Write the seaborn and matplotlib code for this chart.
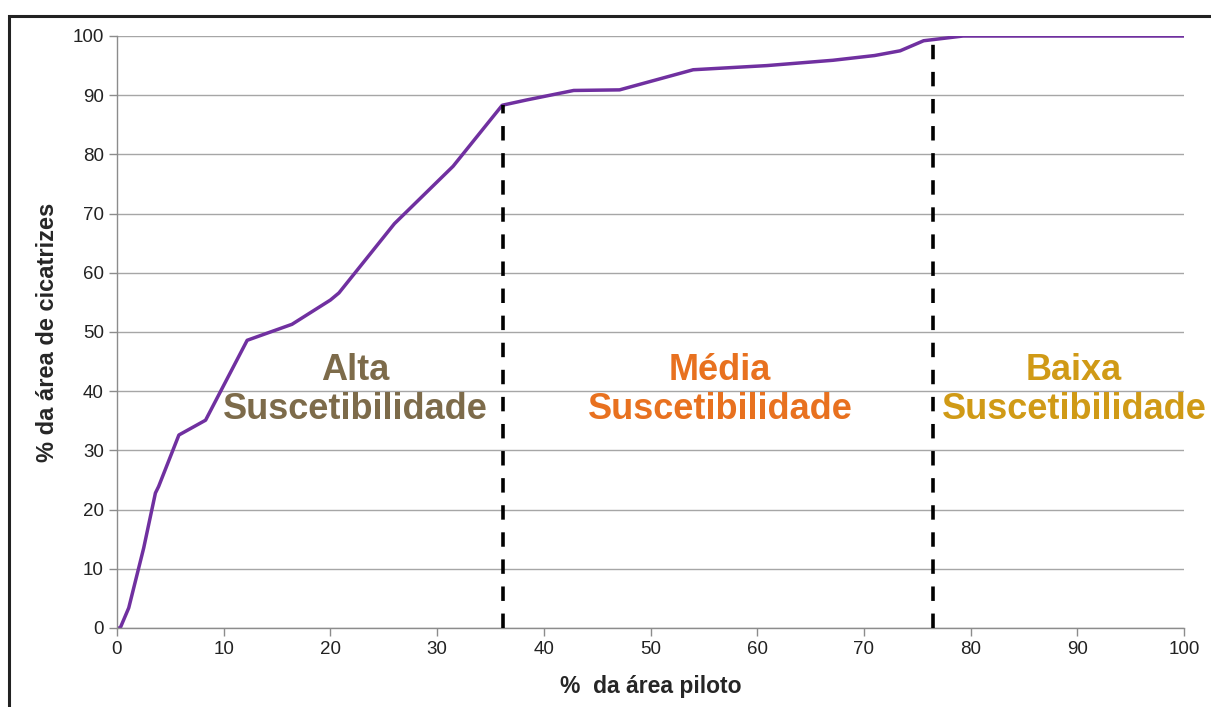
import numpy as np
import pandas as pd
import matplotlib
matplotlib.use('Agg')
import matplotlib.pyplot as plt
import seaborn as sns
from matplotlib.patches import Rectangle

# Dados (curva acumulada)
area_piloto = [0, 0.3, 1.1, 2.5, 3.6, 3.9, 5.8, 8.3, 12.2, 16.4, 20.0, 20.8,
               26.0, 31.5, 36.1, 38.4, 42.8, 47.1, 54.0, 60.9, 67.1, 71.0,
               73.4, 75.6, 79.3, 100]
area_cicatrizes = [0, 0, 3.4, 13.5, 22.8, 23.9, 32.6, 35.1, 48.6, 51.3, 55.4, 56.6,
                   68.3, 78.0, 88.3, 89.2, 90.8, 90.9, 94.3, 95.0, 95.9, 96.7,
                   97.5, 99.2, 100, 100]

limites_x = [36.2, 76.5]
limites_topo = [88.4, 99.2]

classes = ['Alta\nSuscetibilidade', 'Média\nSuscetibilidade', 'Baixa\nSuscetibilidade']
classes_x = [22.3, 56.5, 89.7]
classes_y = [40.2, 40.2, 40.2]
classes_cor = ['#7d6b4a', '#e8711f', '#d09a16']

sns.set_theme(style='white')
plt.rcParams['font.family'] = ['Liberation Sans', 'DejaVu Sans']

fig = plt.figure(figsize=(12.11, 7.07), dpi=100)
ax = fig.add_axes([117 / 1211, 1 - 628 / 707, (1184 - 117) / 1211, (628 - 36) / 707])

df = pd.DataFrame({'x': area_piloto, 'y': area_cicatrizes})
sns.lineplot(data=df, x='x', y='y', sort=False, color='#7030a0', linewidth=2.5, ax=ax)

ax.vlines(limites_x, 0, limites_topo, colors='black', linestyles=(0, (4, 3.5)), linewidth=2.6, zorder=3)

for txt, tx, ty, cor in zip(classes, classes_x, classes_y, classes_cor):
    ax.text(tx, ty, txt, ha='center', va='center', fontsize=26, fontweight='bold',
            color=cor, linespacing=1.12, zorder=4)

ax.set_xlim(0, 100)
ax.set_ylim(0, 100)
ax.set_xticks(np.arange(0, 101, 10))
ax.set_yticks(np.arange(0, 101, 10))
ax.yaxis.grid(True, color='#a6a6a6', linewidth=1)
ax.xaxis.grid(False)
ax.set_axisbelow(True)
for s in ['top', 'right']:
    ax.spines[s].set_visible(False)
for s in ['left', 'bottom']:
    ax.spines[s].set_color('#8c8c8c')
    ax.spines[s].set_linewidth(1)
ax.tick_params(axis='both', which='major', length=6, width=1, color='#8c8c8c',
               labelsize=13.5, labelcolor='#222222', direction='out', bottom=True, left=True)
ax.set_xlabel('%  da área piloto', fontsize=16.5, fontweight='bold', labelpad=12)
ax.set_ylabel('% da área de cicatrizes', fontsize=17, fontweight='bold', labelpad=10)

# moldura preta em volta da figura
fig.patches.append(Rectangle((9 / 1211, -0.1), 1.2, 1 - 16 / 707 + 0.1, transform=fig.transFigure,
                             fill=False, edgecolor='#222222', linewidth=2.2))

fig.savefig('out.png', dpi=100)
